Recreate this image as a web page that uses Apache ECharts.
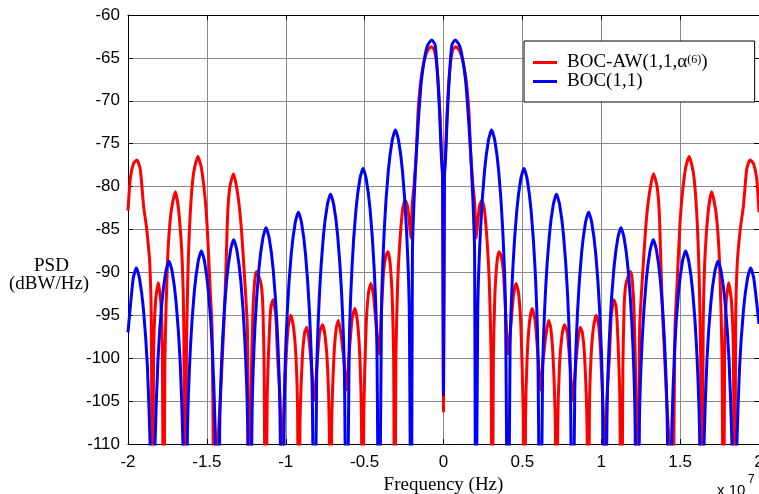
<!DOCTYPE html>
<html>
<head>
<meta charset="utf-8">
<script src="https://cdn.jsdelivr.net/npm/echarts@6/dist/echarts.min.js"></script>
<style>
  html, body { margin: 0; padding: 0; background: #fff; }
  #chart { width: 759px; height: 494px; }
</style>
</head>
<body>
<div id="chart"></div>
<script>
// Power spectral density of the two modulations, frequency in units of 1e7 Hz, PSD in dBW/Hz.
// Points below the -110 dB floor are spectral nulls; the plot clips them at the frame.

const seriesNames = ['BOC-AW(1,1,\u03b1(6))', 'BOC(1,1)'];

const xTickStep = 0.5;
const xRange = [-2, 2];
const yTickStep = 5;
const yRange = [-110, -60];

// BOC-AW(1,1,alpha^(6)) spectrum
const bocAwPsd = [
  [-2.000,-82.8],[-1.985,-79.0],[-1.965,-77.3],[-1.943,-76.9],[-1.922,-78.0],[-1.901,-82.3],
  [-1.881,-85.0],[-1.862,-89.0],[-1.852,-96.0],[-1.845,-130],
  [-1.838,-100.0],[-1.826,-93.5],[-1.808,-91.2],[-1.792,-93.5],[-1.782,-100.0],[-1.774,-130],
  [-1.766,-100.0],[-1.750,-88.9],[-1.728,-83.1],[-1.700,-80.6],[-1.677,-83.1],[-1.656,-88.9],
  [-1.646,-97.0],[-1.638,-130],
  [-1.630,-100.0],[-1.620,-90.0],[-1.605,-83.0],[-1.585,-78.5],[-1.557,-76.5],[-1.535,-77.8],
  [-1.512,-81.2],[-1.497,-85.0],[-1.482,-90.9],[-1.467,-96.7],[-1.448,-130],
  [-1.430,-110.0],[-1.414,-104.5],[-1.389,-94.8],[-1.378,-88.9],[-1.368,-83.1],[-1.354,-80.0],
  [-1.331,-78.5],[-1.302,-81.2],[-1.281,-85.0],[-1.260,-90.9],[-1.243,-96.7],[-1.230,-130],
  [-1.220,-104.0],[-1.208,-94.5],[-1.197,-91.0],[-1.186,-89.9],[-1.170,-90.5],[-1.155,-91.5],
  [-1.145,-94.0],[-1.137,-101.0],[-1.128,-130],
  [-1.118,-105.0],[-1.105,-97.5],[-1.094,-94.0],[-1.080,-93.2],[-1.063,-95.2],[-1.052,-99.8],
  [-1.037,-104.3],[-1.025,-112.0],
  [-1.012,-106.0],[-0.995,-99.0],[-0.982,-96.0],[-0.968,-95.0],[-0.950,-96.5],[-0.935,-100.0],
  [-0.925,-106.0],[-0.918,-130],
  [-0.910,-108.0],[-0.895,-100.0],[-0.880,-97.0],[-0.866,-96.4],[-0.850,-98.3],[-0.835,-101.5],
  [-0.818,-104.9],
  [-0.803,-101.0],[-0.785,-97.0],[-0.767,-96.1],[-0.750,-97.5],[-0.735,-101.0],[-0.724,-108.0],
  [-0.717,-130],
  [-0.709,-108.0],[-0.695,-100.0],[-0.680,-96.5],[-0.666,-95.6],[-0.648,-97.5],[-0.630,-100.5],
  [-0.614,-103.7],
  [-0.600,-100.0],[-0.580,-95.5],[-0.562,-94.2],[-0.545,-95.8],[-0.530,-100.0],[-0.520,-107.0],
  [-0.513,-130],
  [-0.505,-106.0],[-0.490,-96.0],[-0.475,-92.3],[-0.460,-91.3],[-0.443,-92.8],[-0.428,-96.0],
  [-0.409,-99.5],
  [-0.395,-95.0],[-0.380,-90.0],[-0.365,-88.0],[-0.352,-87.6],[-0.338,-89.0],[-0.325,-93.0],
  [-0.316,-100.0],[-0.309,-130],
  [-0.302,-100.0],[-0.290,-91.0],[-0.275,-86.0],[-0.258,-82.5],[-0.243,-81.6],[-0.228,-82.3],
  [-0.215,-84.5],[-0.207,-86.0],
  [-0.198,-82.0],[-0.185,-79.5],[-0.172,-76.0],[-0.162,-71.5],[-0.149,-68.5],[-0.130,-66.0],
  [-0.105,-64.3],[-0.080,-63.7],[-0.060,-64.0],[-0.045,-65.5],[-0.033,-68.0],[-0.022,-71.7],
  [-0.012,-76.5],[-0.006,-79.0],[0.000,-106.2],
  [0.006,-79.0],[0.012,-76.5],[0.022,-71.7],[0.033,-68.0],[0.045,-65.5],[0.060,-64.0],
  [0.080,-63.7],[0.105,-64.3],[0.130,-66.0],[0.149,-68.5],[0.162,-71.5],[0.172,-76.0],
  [0.185,-79.5],[0.198,-82.0],
  [0.207,-86.0],[0.215,-84.5],[0.228,-82.3],[0.243,-81.6],[0.258,-82.5],[0.275,-86.0],
  [0.290,-91.0],[0.302,-100.0],[0.309,-130],
  [0.316,-100.0],[0.325,-93.0],[0.338,-89.0],[0.352,-87.6],[0.365,-88.0],[0.380,-90.0],
  [0.395,-95.0],[0.409,-99.5],
  [0.428,-96.0],[0.443,-92.8],[0.460,-91.3],[0.475,-92.3],[0.490,-96.0],[0.505,-106.0],
  [0.513,-130],
  [0.520,-107.0],[0.530,-100.0],[0.545,-95.8],[0.562,-94.2],[0.580,-95.5],[0.600,-100.0],
  [0.614,-103.7],
  [0.630,-100.5],[0.648,-97.5],[0.666,-95.6],[0.680,-96.5],[0.695,-100.0],[0.709,-108.0],
  [0.717,-130],
  [0.724,-108.0],[0.735,-101.0],[0.750,-97.5],[0.767,-96.1],[0.785,-97.0],[0.803,-101.0],
  [0.818,-104.9],
  [0.835,-101.5],[0.850,-98.3],[0.866,-96.4],[0.880,-97.0],[0.895,-100.0],[0.910,-108.0],
  [0.918,-130],
  [0.925,-106.0],[0.935,-100.0],[0.950,-96.5],[0.968,-95.0],[0.982,-96.0],[0.995,-99.0],
  [1.012,-106.0],[1.025,-112.0],
  [1.037,-104.3],[1.052,-99.8],[1.063,-95.2],[1.080,-93.2],[1.094,-94.0],[1.105,-97.5],
  [1.118,-105.0],[1.128,-130],
  [1.137,-101.0],[1.145,-94.0],[1.155,-91.5],[1.170,-90.5],[1.186,-89.9],[1.197,-91.0],
  [1.208,-94.5],[1.220,-104.0],[1.230,-130],
  [1.243,-96.7],[1.260,-90.9],[1.281,-85.0],[1.302,-81.2],[1.331,-78.5],[1.354,-80.0],
  [1.368,-83.1],[1.378,-88.9],[1.389,-94.8],[1.414,-104.5],[1.430,-110.0],[1.448,-130],
  [1.467,-96.7],[1.482,-90.9],[1.497,-85.0],[1.512,-81.2],[1.535,-77.8],[1.557,-76.5],
  [1.585,-78.5],[1.605,-83.0],[1.620,-90.0],[1.630,-100.0],[1.638,-130],
  [1.646,-97.0],[1.656,-88.9],[1.677,-83.1],[1.700,-80.6],[1.728,-83.1],[1.750,-88.9],
  [1.766,-100.0],[1.774,-130],
  [1.782,-100.0],[1.792,-93.5],[1.808,-91.2],[1.826,-93.5],[1.838,-100.0],[1.845,-130],
  [1.852,-96.0],[1.862,-89.0],[1.881,-85.0],[1.901,-82.3],[1.922,-78.0],[1.943,-76.9],
  [1.965,-77.3],[1.985,-79.0],[2.000,-83.0]
];

// BOC(1,1) spectrum
const bocPsd = [
  [-2.000,-97.0],[-1.967,-90.7],[-1.947,-89.5],[-1.927,-90.7],[-1.902,-94.3],[-1.877,-101.0],
  [-1.859,-110.5],[-1.841,-130],
  [-1.828,-109.7],[-1.810,-100.2],[-1.785,-93.5],[-1.760,-89.9],[-1.740,-88.7],[-1.720,-89.9],
  [-1.695,-93.5],[-1.670,-100.2],[-1.652,-109.7],[-1.637,-130],
  [-1.623,-108.5],[-1.605,-99.0],[-1.580,-92.3],[-1.555,-88.7],[-1.535,-87.5],[-1.515,-88.7],
  [-1.490,-92.3],[-1.465,-99.0],[-1.447,-108.5],[-1.432,-130],
  [-1.418,-107.2],[-1.400,-97.7],[-1.375,-91.0],[-1.350,-87.4],[-1.330,-86.2],[-1.310,-87.4],
  [-1.285,-91.0],[-1.260,-97.7],[-1.242,-107.2],[-1.228,-130],
  [-1.213,-105.8],[-1.195,-96.3],[-1.170,-89.6],[-1.145,-86.0],[-1.125,-84.8],[-1.105,-86.0],
  [-1.080,-89.6],[-1.055,-96.3],[-1.037,-105.8],[-1.023,-130],
  [-1.008,-104.0],[-0.990,-94.5],[-0.965,-87.8],[-0.940,-84.2],[-0.920,-83.0],[-0.900,-84.2],
  [-0.875,-87.8],[-0.850,-94.5],[-0.832,-104.0],[-0.818,-130],
  [-0.804,-101.9],[-0.786,-92.4],[-0.761,-85.7],[-0.736,-82.1],[-0.716,-80.9],[-0.696,-82.1],
  [-0.671,-85.7],[-0.646,-92.4],[-0.628,-101.9],[-0.614,-130],
  [-0.598,-98.9],[-0.580,-89.4],[-0.555,-82.7],[-0.530,-79.1],[-0.510,-77.9],[-0.490,-79.1],
  [-0.465,-82.7],[-0.440,-89.4],[-0.422,-98.9],[-0.409,-130],
  [-0.393,-94.4],[-0.375,-84.9],[-0.350,-78.2],[-0.325,-74.6],[-0.305,-73.4],[-0.285,-74.6],
  [-0.260,-78.2],[-0.235,-84.9],[-0.217,-94.4],[-0.205,-130],
  [-0.197,-87.5],[-0.187,-81.8],[-0.173,-76.3],[-0.157,-71.7],[-0.141,-67.8],[-0.120,-65.0],
  [-0.100,-63.5],[-0.075,-62.9],[-0.053,-63.5],[-0.035,-67.8],[-0.024,-71.7],[-0.013,-76.7],
  [-0.006,-78.5],[0.000,-104.3],
  [0.006,-78.5],[0.013,-76.7],[0.024,-71.7],[0.035,-67.8],[0.053,-63.5],[0.075,-62.9],
  [0.100,-63.5],[0.120,-65.0],[0.141,-67.8],[0.157,-71.7],[0.173,-76.3],[0.187,-81.8],
  [0.197,-87.5],[0.205,-130],
  [0.217,-94.4],[0.235,-84.9],[0.260,-78.2],[0.285,-74.6],[0.305,-73.4],[0.325,-74.6],
  [0.350,-78.2],[0.375,-84.9],[0.393,-94.4],[0.409,-130],
  [0.422,-98.9],[0.440,-89.4],[0.465,-82.7],[0.490,-79.1],[0.510,-77.9],[0.530,-79.1],
  [0.555,-82.7],[0.580,-89.4],[0.598,-98.9],[0.614,-130],
  [0.628,-101.9],[0.646,-92.4],[0.671,-85.7],[0.696,-82.1],[0.716,-80.9],[0.736,-82.1],
  [0.761,-85.7],[0.786,-92.4],[0.804,-101.9],[0.818,-130],
  [0.832,-104.0],[0.850,-94.5],[0.875,-87.8],[0.900,-84.2],[0.920,-83.0],[0.940,-84.2],
  [0.965,-87.8],[0.990,-94.5],[1.008,-104.0],[1.023,-130],
  [1.037,-105.8],[1.055,-96.3],[1.080,-89.6],[1.105,-86.0],[1.125,-84.8],[1.145,-86.0],
  [1.170,-89.6],[1.195,-96.3],[1.213,-105.8],[1.228,-130],
  [1.242,-107.2],[1.260,-97.7],[1.285,-91.0],[1.310,-87.4],[1.330,-86.2],[1.350,-87.4],
  [1.375,-91.0],[1.400,-97.7],[1.418,-107.2],[1.432,-130],
  [1.447,-108.5],[1.465,-99.0],[1.490,-92.3],[1.515,-88.7],[1.535,-87.5],[1.555,-88.7],
  [1.580,-92.3],[1.605,-99.0],[1.623,-108.5],[1.637,-130],
  [1.652,-109.7],[1.670,-100.2],[1.695,-93.5],[1.720,-89.9],[1.740,-88.7],[1.760,-89.9],
  [1.785,-93.5],[1.810,-100.2],[1.828,-109.7],[1.841,-130],
  [1.859,-110.5],[1.877,-101.0],[1.902,-94.3],[1.927,-90.7],[1.947,-89.5],[1.967,-90.7],
  [2.000,-96.0]
];

const sansFont = '"Liberation Sans", Arial, Helvetica, sans-serif';
const serifFont = '"Liberation Serif", "Times New Roman", serif';
const gridColor = '#8a8a8a';

const chart = echarts.init(document.getElementById('chart'), null, { renderer: 'canvas' });

function valueAxis(position, range, step, showLabels, showGrid) {
  return {
    type: 'value',
    position: position,
    min: range[0],
    max: range[1],
    interval: step,
    axisLine: { show: true, onZero: false, lineStyle: { color: '#000', width: 1 } },
    axisTick: { show: true, inside: true, length: 5, lineStyle: { color: '#000' } },
    axisLabel: {
      show: showLabels,
      color: '#000',
      fontFamily: sansFont,
      fontSize: 17,
      margin: 8
    },
    splitLine: { show: showGrid, lineStyle: { color: gridColor, width: 1 } }
  };
}

const xBottom = valueAxis('bottom', xRange, xTickStep, true, true);
xBottom.axisLabel.margin = 10;
xBottom.name = 'Frequency (Hz)';
xBottom.nameLocation = 'middle';
xBottom.nameGap = 30;
xBottom.nameTextStyle = { fontFamily: serifFont, fontSize: 19, color: '#000' };
const xTop = valueAxis('top', xRange, xTickStep, false, false);
const yLeft = valueAxis('left', yRange, yTickStep, true, true);
const yRight = valueAxis('right', yRange, yTickStep, false, false);

const option = {
  animation: false,
  backgroundColor: '#fff',
  grid: { left: 128, right: 0, top: 15, bottom: 50, containLabel: false, outerBoundsMode: 'none' },
  xAxis: [xBottom, xTop],
  yAxis: [yLeft, yRight],
  legend: {
    data: seriesNames,
    orient: 'vertical',
    left: 524,
    top: 41,
    padding: [12, 47, 11, 9],
    itemGap: 0,
    icon: 'rect',
    itemWidth: 24,
    itemHeight: 3,
    backgroundColor: '#fff',
    borderColor: '#000',
    borderWidth: 1,
    borderRadius: 0,
    formatter: function (name) {
      if (name === seriesNames[0]) {
        return '{n|BOC-AW(1,1,\u03b1}{s|(6)}{n|)}';
      }
      return '{n|' + name + '}';
    },
    textStyle: {
      padding: [0, 0, 0, 5],
      rich: {
        n: { fontFamily: serifFont, fontSize: 19, color: '#000', lineHeight: 18 },
        s: { fontFamily: serifFont, fontSize: 12, color: '#000', verticalAlign: 'top', lineHeight: 12 }
      }
    }
  },
  graphic: [
    { type: 'text', left: 34, top: 257, style: { text: 'PSD', font: '19px ' + serifFont, fill: '#000' } },
    { type: 'text', left: 9, top: 275, style: { text: '(dBW/Hz)', font: '19px ' + serifFont, fill: '#000' } },
    { type: 'text', left: 717, top: 483, style: { text: 'x 10', font: '15px ' + sansFont, fill: '#000' } },
    { type: 'text', left: 748, top: 474, style: { text: '7', font: '12px ' + sansFont, fill: '#000' } }
  ],
  series: [
    {
      name: seriesNames[0],
      type: 'line',
      data: bocAwPsd,
      showSymbol: false,
      symbol: 'none',
      smooth: 0.2,
      clip: true,
      lineStyle: { color: '#ff0000', width: 3 },
      itemStyle: { color: '#ff0000' }
    },
    {
      name: seriesNames[1],
      type: 'line',
      data: bocPsd,
      showSymbol: false,
      symbol: 'none',
      smooth: 0.2,
      clip: true,
      lineStyle: { color: '#0000ff', width: 3 },
      itemStyle: { color: '#0000ff' }
    }
  ]
};

chart.setOption(option);
</script>
</body>
</html>
